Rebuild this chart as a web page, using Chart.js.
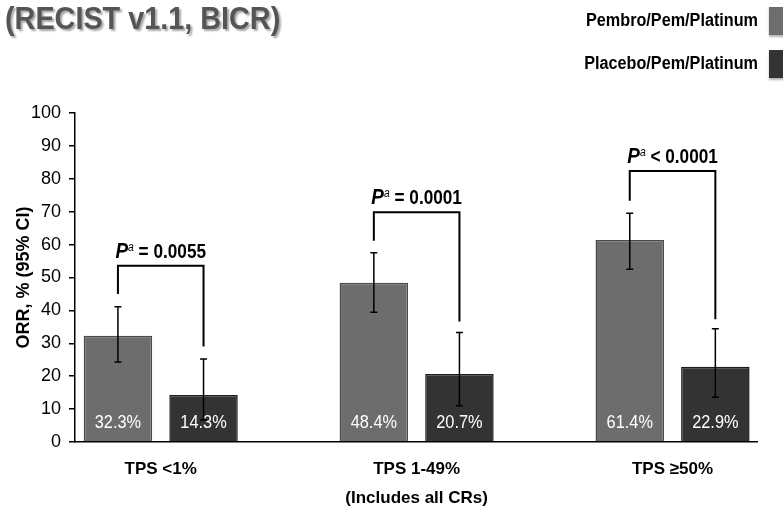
<!DOCTYPE html>
<html>
<head>
<meta charset="utf-8">
<script src="https://cdn.jsdelivr.net/npm/chart.js@4.4.0/dist/chart.umd.min.js"></script>
<style>
  html, body { margin: 0; padding: 0; background: #fff; }
  #wrap { width: 783px; height: 516px; position: relative; }
</style>
</head>
<body>
<div id="wrap"><canvas id="orrChart"></canvas></div>
<script>
// values
var categories = [['TPS <1%'], ['TPS 1-49%', '(Includes all CRs)'], ['TPS \u226550%']];
var seriesNames = ['Pembro/Pem/Platinum', 'Placebo/Pem/Platinum'];
var pembroOrr = [32.3, 48.4, 61.4];
var placeboOrr = [14.3, 20.7, 22.9];
var pembroCiLow = [24.3, 39.4, 52.5];
var pembroCiHigh = [41.1, 57.5, 69.5];
var placeboCiLow = [6.7, 11.0, 13.6];
var placeboCiHigh = [25.2, 33.3, 34.4];
var pValues = ['= 0.0055', '= 0.0001', '< 0.0001'];
var bracketTop = [53.6, 69.8, 82.4];
var bracketLeftEnd = [45.0, 61.2, 73.3];
var bracketRightEnd = [29.0, 36.6, 37.3];
var yTicks = [0, 10, 20, 30, 40, 50, 60, 70, 80, 90, 100];

var FONT = '"Liberation Sans", Arial, sans-serif';
var pembroColor = '#6d6d6d';
var placeboColor = '#333333';

function toPoints(arr) {
  var pts = [];
  for (var i = 0; i < arr.length; i++) {
    pts.push({x: i, y: arr[i]});
  }
  return pts;
}

// the slide uses Arial Narrow, squeeze Liberation Sans to get close
function narrowText(ctx, text, x, y, sx) {
  ctx.save();
  ctx.translate(x, y);
  ctx.scale(sx, 1);
  ctx.fillText(text, 0, 0);
  ctx.restore();
}

var annotate = {
  id: 'annotate',
  afterDatasetsDraw: function (chart) {
    var ctx = chart.ctx;
    var ys = chart.scales.y;
    var m0 = chart.getDatasetMeta(0);
    var m1 = chart.getDatasetMeta(1);
    var base = ys.getPixelForValue(0);
    ctx.save();

    // percent labels inside the bars
    ctx.fillStyle = '#ffffff';
    ctx.font = '19px ' + FONT;
    ctx.textAlign = 'center';
    ctx.textBaseline = 'middle';
    for (var i = 0; i < categories.length; i++) {
      narrowText(ctx, pembroOrr[i].toFixed(1) + '%', m0.data[i].x, base - 19, 0.86);
      narrowText(ctx, placeboOrr[i].toFixed(1) + '%', m1.data[i].x, base - 19, 0.86);
    }

    // 95% CI whiskers
    ctx.strokeStyle = '#000';
    ctx.lineWidth = 1.5;
    function whisker(x, lo, hi) {
      var a = ys.getPixelForValue(lo), b = ys.getPixelForValue(hi);
      ctx.beginPath();
      ctx.moveTo(x, a); ctx.lineTo(x, b);
      ctx.moveTo(x - 3.5, a); ctx.lineTo(x + 3.5, a);
      ctx.moveTo(x - 3.5, b); ctx.lineTo(x + 3.5, b);
      ctx.stroke();
    }
    for (var j = 0; j < categories.length; j++) {
      whisker(m0.data[j].x, pembroCiLow[j], pembroCiHigh[j]);
      whisker(m1.data[j].x, placeboCiLow[j], placeboCiHigh[j]);
    }

    // brackets + p values
    var sx = 0.86;
    ctx.lineWidth = 2;
    for (var k = 0; k < categories.length; k++) {
      var xl = m0.data[k].x, xr = m1.data[k].x;
      var top = ys.getPixelForValue(bracketTop[k]);
      ctx.beginPath();
      ctx.moveTo(xl, ys.getPixelForValue(bracketLeftEnd[k]));
      ctx.lineTo(xl, top);
      ctx.lineTo(xr, top);
      ctx.lineTo(xr, ys.getPixelForValue(bracketRightEnd[k]));
      ctx.stroke();

      var fP = 'italic bold 22px ' + FONT;
      var fA = 'italic 12px ' + FONT;
      var fV = 'bold 20px ' + FONT;
      var rest = ' ' + pValues[k];
      ctx.font = fP; var wP = ctx.measureText('P').width * sx;
      ctx.font = fA; var wA = ctx.measureText('a').width * sx;
      ctx.font = fV; var wV = ctx.measureText(rest).width * sx;
      var x0 = (xl + xr) / 2 - (wP + wA + wV) / 2;
      var yb = top - 8;
      ctx.fillStyle = '#000';
      ctx.textAlign = 'left';
      ctx.textBaseline = 'alphabetic';
      ctx.font = fP; narrowText(ctx, 'P', x0, yb, sx);
      ctx.font = fA; narrowText(ctx, 'a', x0 + wP, yb - 7, sx);
      ctx.font = fV; narrowText(ctx, rest, x0 + wP + wA, yb, sx);
    }
    ctx.restore();
  },
  afterDraw: function (chart) {
    var ctx = chart.ctx;
    ctx.save();
    // slide heading
    ctx.font = 'bold 32px ' + FONT;
    ctx.fillStyle = '#555555';
    ctx.textAlign = 'left';
    ctx.textBaseline = 'alphabetic';
    ctx.shadowColor = 'rgba(0,0,0,0.35)';
    ctx.shadowOffsetX = 2;
    ctx.shadowOffsetY = 2;
    ctx.shadowBlur = 2;
    narrowText(ctx, '(RECIST v1.1, BICR)', 5, 29, 0.9);
    ctx.restore();

    // legend, text then swatch on the right
    ctx.save();
    var ds = chart.data.datasets;
    var rows = [21, 64];
    ctx.font = 'bold 18px ' + FONT;
    ctx.textAlign = 'right';
    ctx.textBaseline = 'middle';
    for (var i = 0; i < ds.length; i++) {
      ctx.fillStyle = '#000';
      narrowText(ctx, ds[i].label, 758, rows[i], 0.9);
      ctx.shadowColor = 'rgba(0,0,0,0.3)';
      ctx.shadowOffsetY = 2;
      ctx.shadowBlur = 2;
      ctx.fillStyle = ds[i].backgroundColor;
      ctx.fillRect(769, rows[i] - 14, 20, 28);
      ctx.shadowColor = 'transparent';
    }
    ctx.restore();
  }
};

var ctx = document.getElementById('orrChart');
var orrChart = new Chart(ctx, {
  type: 'bar',
  data: {
    datasets: [{
      label: seriesNames[0],
      data: toPoints(pembroOrr),
      backgroundColor: pembroColor,
      borderColor: '#4a4a4a',
      borderWidth: 1.5
    }, {
      label: seriesNames[1],
      data: toPoints(placeboOrr),
      backgroundColor: placeboColor,
      borderColor: '#1c1c1c',
      borderWidth: 1.5
    }]
  },
  options: {
    responsive: true,
    maintainAspectRatio: false,
    animation: false,
    categoryPercentage: 0.669,
    barPercentage: 0.80,
    layout: { padding: { top: 113, left: 13, right: 26, bottom: 0 } },
    plugins: {
      legend: { display: false },
      title: { display: false },
      tooltip: { enabled: false }
    },
    scales: {
      x: {
        type: 'linear',
        offset: false,
        min: -0.335,
        max: 2.33,
        afterBuildTicks: function (s) {
          s.ticks = categories.map(function (c, i) { return {value: i}; });
        },
        afterFit: function (s) { s.height = 74; },
        grid: { display: true, drawOnChartArea: false, drawTicks: false },
        border: { display: true, color: '#000', width: 1.5 },
        ticks: {
          autoSkip: false,
          maxRotation: 0,
          padding: 13,
          color: '#000',
          font: { family: FONT, size: 17, weight: 'bold', lineHeight: 1.7 },
          callback: function (v) { return categories[v]; }
        }
      },
      y: {
        min: 0,
        max: 100,
        afterBuildTicks: function (s) {
          s.ticks = yTicks.map(function (t) { return {value: t}; });
        },
        afterFit: function (s) { s.width = 62; },
        grid: { drawOnChartArea: false, drawTicks: true, tickLength: 6, color: '#000', lineWidth: 1.5 },
        border: { display: true, color: '#000', width: 1.5 },
        ticks: {
          padding: 8,
          color: '#000',
          font: { family: FONT, size: 18 }
        },
        title: {
          display: true,
          text: 'ORR, % (95% CI)',
          color: '#000',
          padding: { top: 0, bottom: 0 },
          font: { family: FONT, size: 18, weight: 'bold' }
        }
      }
    }
  },
  plugins: [annotate]
});
</script>
</body>
</html>
